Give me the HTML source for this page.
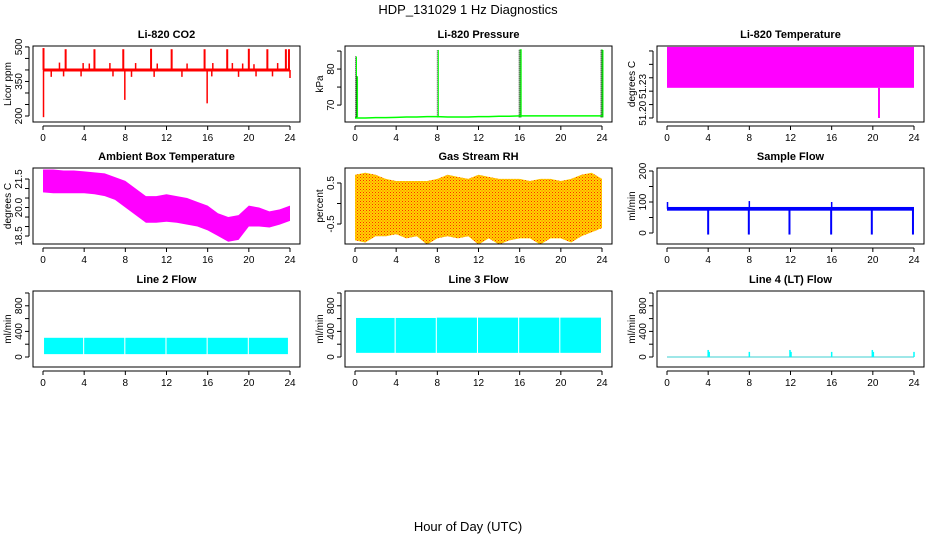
<!DOCTYPE html>
<html><head><meta charset="utf-8"><style>
html,body{margin:0;padding:0;background:#fff}
svg{display:block;font-family:"Liberation Sans",sans-serif}
</style></head><body>
<svg id="chart" width="936" height="540" viewBox="0 0 936 540">
<defs>
<pattern id="rhpat" width="3" height="3" patternUnits="userSpaceOnUse">
<rect width="3" height="3" fill="#ffd400"/><rect x="0" y="0" width="1" height="1" fill="#ff2a00"/><rect x="1.5" y="1.5" width="1" height="1" fill="#ff5a00"/>
</pattern>
</defs>
<text x="468" y="14" text-anchor="middle" font-size="13">HDP_131029  1 Hz Diagnostics</text>
<text x="468" y="531" text-anchor="middle" font-size="13">Hour of Day (UTC)</text>
</svg>
<script>
// ---- data ----
const hourTicks = [0,4,8,12,16,20,24];
const co2Base = 400;
const co2UpTimes = [0.05,2.2,5.0,7.8,10.5,12.5,15.7,17.9,20.0,21.8,23.6,23.9];
const co2UpVals  = [495,490,490,490,492,490,490,490,492,490,490,490];
const co2MidTimes = [1.6,3.9,4.5,6.5,9.0,11.1,14.0,16.5,18.4,19.4,20.5,22.8];
const co2MidVals  = [432,430,428,430,430,428,428,430,430,428,425,430];
const co2DownTimes = [0.05,0.8,2.0,3.7,6.8,7.95,8.6,10.8,13.5,15.95,16.4,19.0,20.7,22.3,24.0];
const co2DownVals  = [195,370,372,372,372,270,370,370,370,255,372,370,372,372,365];
const presTimes = [0,1,2,3,4,5,6,7,8,9,10,11,12,13,14,15,16,17,18,19,20,21,22,23,24];
const presVals  = [66.4,66.4,66.5,66.5,66.6,66.7,66.7,66.8,66.8,66.7,66.7,66.7,66.8,66.8,66.9,66.9,67.0,67.0,67.0,67.0,67.0,67.0,67.0,67.0,67.0];
const presSpikeTimes = [0.05,0.15,8.0,15.95,16.05,23.9,24.0];
const presSpikeVals  = [83.5,78,85.3,85.5,85.5,85.5,85.3];
const tempMax = 51.2530, tempMin = 51.2225;
const tempSpikeTime = 20.6, tempSpikeVal = 51.2;
const ambTimes = [0,1,2,3,4,5,6,7,8,9,10,11,12,13,14,15,16,17,18,19,20,21,22,23,24];
const ambMax = [22.0,22.0,21.95,21.95,21.9,21.85,21.8,21.6,21.4,21.0,20.6,20.6,20.7,20.6,20.5,20.3,20.1,19.7,19.5,19.6,20.1,20.0,19.8,19.9,20.1];
const ambMin = [20.8,20.75,20.75,20.75,20.75,20.7,20.6,20.4,20.0,19.6,19.2,19.2,19.25,19.2,19.1,19.0,18.8,18.5,18.2,18.3,19.0,19.0,18.95,19.1,19.3];
const rhTimes = [0,1,2,3,4,5,6,7,8,9,10,11,12,13,14,15,16,17,18,19,20,21,22,23,24];
const rhMax = [0.7,0.75,0.7,0.6,0.55,0.55,0.55,0.55,0.6,0.7,0.65,0.6,0.7,0.65,0.6,0.6,0.6,0.55,0.6,0.6,0.55,0.6,0.7,0.75,0.6];
const rhMin = [-0.9,-0.95,-0.8,-0.8,-0.75,-0.85,-0.8,-1.0,-0.85,-0.8,-0.85,-0.8,-1.0,-0.85,-1.0,-0.9,-0.85,-0.85,-1.0,-0.85,-0.85,-0.95,-0.8,-0.7,-0.6];
const sampleBase = 78;
const sampleDipTimes = [4.0,7.95,11.9,15.95,19.9,23.9];
const sampleDipVals  = [-5,-5,-5,-5,-5,-5];
const sampleUpTimes = [0.05,8.0,16.0];
const sampleUpVals  = [100,103,100];
const l2Starts = [0.1,4.0,8.0,12.0,16.0,20.0];
const l2Ends   = [3.9,7.9,11.9,15.9,19.9,23.8];
const l2Max = [300,300,300,300,300,300];
const l2Min = [45,45,45,45,45,45];
const l3Starts = [0.1,3.95,7.95,11.95,15.95,19.95];
const l3Ends   = [3.85,7.85,11.85,15.85,19.85,23.9];
const l3Max = [610,610,615,615,615,615];
const l3Min = [65,65,65,65,65,65];
const l4SpikeTimes = [4.0,4.1,8.0,11.95,12.05,16.0,19.95,20.05,24.0];
const l4SpikeVals  = [110,80,80,110,80,80,110,80,80];

// ---- layout ----
const svg = document.getElementById('chart');
const NS = 'http://www.w3.org/2000/svg';
function mk(tag, attrs, parent){const e=document.createElementNS(NS,tag);for(const k in attrs)e.setAttribute(k,attrs[k]);(parent||svg).appendChild(e);return e;}
const cols=[[33,300],[345,612],[657,924]];
const rows=[[46,122],[168,244],[291,367]];

function panel(ci,ri,title,ylab,yBottomVal,yTopVal,ticks,labels,name){
  const [L,R]=cols[ci],[T,B]=rows[ri];
  const g=mk('g',{});
  
  
  const xs=h=>L+10+h*(R-L-20)/24;
  const ys=v=>B-(v-yBottomVal)/(yTopVal-yBottomVal)*(B-T);
  const t=mk('text',{x:(L+R)/2,y:T-8,'text-anchor':'middle','font-size':11,'font-weight':'bold'},g);
  t.textContent=title;
  
  
  const yl=mk('text',{x:0,y:0,'text-anchor':'middle','font-size':10,transform:`translate(${L-22},${(T+B)/2}) rotate(-90)`},g);
  yl.textContent=ylab;
  
  
  const plot=mk('g',{},g);
  
  
  const xa=mk('g',{},g);
  
  
  mk('line',{x1:xs(0),x2:xs(24),y1:B+4,y2:B+4,stroke:'#000'},xa);
  hourTicks.forEach(h=>{
    mk('line',{x1:xs(h),x2:xs(h),y1:B+4,y2:B+8,stroke:'#000'},xa);
    const tl=mk('text',{x:xs(h),y:B+19,'text-anchor':'middle','font-size':10},xa);
    tl.textContent=h;
  });
  const ya=mk('g',{},g);
  
  
  mk('line',{x1:L-4,x2:L-4,y1:ys(ticks[0]),y2:ys(ticks[ticks.length-1]),stroke:'#000'},ya);
  ticks.forEach(v=>mk('line',{x1:L-8,x2:L-4,y1:ys(v),y2:ys(v),stroke:'#000'},ya));
  labels.forEach(([v,s])=>{
    const tl=mk('text',{x:0,y:0,'text-anchor':'middle','font-size':10,transform:`translate(${L-11},${ys(v)}) rotate(-90)`},ya);
    tl.textContent=s;
  });
  mk('rect',{x:L,y:T,width:R-L,height:B-T,fill:'none',stroke:'#000'},g);
  return {xs,ys,plot,L,R,T,B};
}
function vline(p,x,v1,v2,col,w){return mk('line',{x1:x,x2:x,y1:p.ys(v1),y2:p.ys(v2),stroke:col,'stroke-width':w||1.5},p.plot);}
function band(p,t,mn,mx,fill){
  let d='M'+t.map((h,i)=>p.xs(h)+','+p.ys(mx[i])).join('L');
  for(let i=t.length-1;i>=0;i--)d+='L'+p.xs(t[i])+','+p.ys(mn[i]);
  return mk('path',{d:d+'Z',fill:fill},p.plot);
}

// CO2
let p=panel(0,0,'Li-820 CO2','Licor ppm',174,504,[200,250,300,350,400,450,500],[[200,'200'],[350,'350'],[500,'500']],'co2');
co2UpTimes.forEach((h,i)=>{const e=vline(p,p.xs(h),co2Base,co2UpVals[i],'#f00',2);});
co2MidTimes.forEach((h,i)=>{const e=vline(p,p.xs(h),co2Base,co2MidVals[i],'#f00',1.5);});
co2DownTimes.forEach((h,i)=>{const e=vline(p,p.xs(h),co2Base,co2DownVals[i],'#f00',1.5);});
{const e=mk('line',{x1:p.xs(0),x2:p.xs(24),y1:p.ys(co2Base),y2:p.ys(co2Base),stroke:'#f00','stroke-width':3},p.plot);}

// Pressure
p=panel(1,0,'Li-820 Pressure','kPa',65.3,86.4,[70,75,80,85],[[70,'70'],[80,'80']],'pressure');
presSpikeTimes.forEach((h,i)=>{const e=mk('line',{x1:p.xs(h),x2:p.xs(h),y1:p.ys(66.6),y2:p.ys(presSpikeVals[i]),stroke:'#222','stroke-width':1,'stroke-dasharray':'1,1'},p.plot);
 mk('line',{x1:p.xs(h)+1,x2:p.xs(h)+1,y1:p.ys(66.6),y2:p.ys(presSpikeVals[i]),stroke:'#0f0','stroke-width':1},p.plot);});
{const e=mk('polyline',{points:presTimes.map((h,i)=>p.xs(h)+','+p.ys(presVals[i])).join(' '),fill:'none',stroke:'#0f0','stroke-width':1.5},p.plot);}

// Li-820 temp
p=panel(2,0,'Li-820 Temperature','degrees C',51.197,51.2537,[51.20,51.21,51.22,51.23,51.24,51.25],[[51.2035,'51.20'],[51.2235,'51.23']],'li820-temp');
{const e=mk('rect',{x:p.xs(0),y:p.ys(tempMax),width:p.xs(24)-p.xs(0),height:p.ys(tempMin)-p.ys(tempMax),fill:'#f0f'},p.plot);}
{const e=vline(p,p.xs(tempSpikeTime),tempMin,tempSpikeVal,'#f0f',2);}

// Ambient
p=panel(0,1,'Ambient Box Temperature','degrees C',18.08,22.08,[18.5,19,19.5,20,20.5,21,21.5],[[18.5,'18.5'],[20,'20.0'],[21.5,'21.5']],'ambient-temp');
{const e=band(p,ambTimes,ambMin,ambMax,'#f0f');}

// RH
p=panel(1,1,'Gas Stream RH','percent',-0.988,0.866,[-0.5,0,0.5],[[-0.5,'-0.5'],[0.5,'0.5']],'rh');
{const e=band(p,rhTimes,rhMin,rhMax,'url(#rhpat)');}

// Sample flow
p=panel(2,1,'Sample Flow','ml/min',-35.5,209.7,[0,50,100,150,200],[[0,'0'],[100,'100'],[200,'200']],'sample-flow');
{const e=mk('rect',{x:p.xs(0),y:p.ys(sampleBase+6),width:p.xs(24)-p.xs(0),height:p.ys(sampleBase-6)-p.ys(sampleBase+6),fill:'#00f'},p.plot);}
sampleDipTimes.forEach((h,i)=>{const e=vline(p,p.xs(h),sampleBase,sampleDipVals[i],'#00f',2);});
sampleUpTimes.forEach((h,i)=>{const e=vline(p,p.xs(h),sampleBase,sampleUpVals[i],'#00f',1.5);});

// Line flows
const flowTicks=[0,200,400,600,800,1000], flowLabels=[[0,'0'],[400,'400'],[800,'800']];
p=panel(0,2,'Line 2 Flow','ml/min',-156,1031,flowTicks,flowLabels,'line2-flow');
l2Starts.forEach((s,i)=>{const e=mk('rect',{x:p.xs(s),y:p.ys(l2Max[i]),width:p.xs(l2Ends[i])-p.xs(s),height:p.ys(l2Min[i])-p.ys(l2Max[i]),fill:'#0ff'},p.plot);});
p=panel(1,2,'Line 3 Flow','ml/min',-156,1031,flowTicks,flowLabels,'line3-flow');
l3Starts.forEach((s,i)=>{const e=mk('rect',{x:p.xs(s),y:p.ys(l3Max[i]),width:p.xs(l3Ends[i])-p.xs(s),height:p.ys(l3Min[i])-p.ys(l3Max[i]),fill:'#0ff'},p.plot);});
p=panel(2,2,'Line 4 (LT) Flow','ml/min',-156,1031,flowTicks,flowLabels,'line4-flow');
{const e=mk('line',{x1:p.xs(0),x2:p.xs(24),y1:p.ys(0),y2:p.ys(0),stroke:'#7fdfe0','stroke-width':1.5},p.plot);}
l4SpikeTimes.forEach((h,i)=>{const e=vline(p,p.xs(h),0,l4SpikeVals[i],'#0ff',1.5);});
</script>
</body></html>
